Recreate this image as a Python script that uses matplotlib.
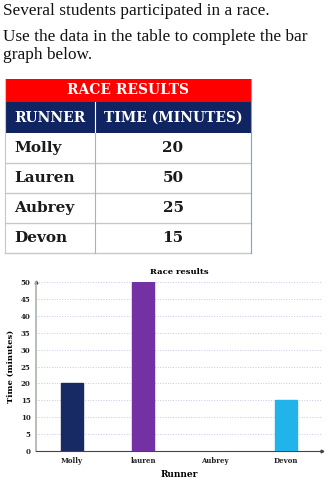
import matplotlib.pyplot as plt
from matplotlib.patches import Rectangle
import numpy as np

plt.rcParams['font.family'] = ['DejaVu Serif']

# ---------------------------------------------------------------------------------------------------------------------
# data
intro_lines = ['Several students participated in a race.',
               'Use the data in the table to complete the bar',
               'graph below.']
table_title = 'RACE RESULTS'
table_header = ['RUNNER', 'TIME (MINUTES)']
runners = ['Molly', 'Lauren', 'Aubrey', 'Devon']
times = [20, 50, 25, 15]

chart_labels = ['Molly', 'lauren', 'Aubrey', 'Devon']
chart_values = [20, 50, 0, 15]          # Aubrey not drawn yet
bar_colors = ['#172a63', '#7431a3', '#ffffff', '#22b3ea']
y_ticks = np.arange(0, 55, 5)

W, H = 329, 482
fig = plt.figure(figsize=(W / 100, H / 100), dpi=100)

# ---------------------------------------------------------------------------------------------------------------------
# text + table, drawn in pixel coordinates
bg = fig.add_axes([0, 0, 1, 1])
bg.set_xlim(0, W)
bg.set_ylim(H, 0)
bg.axis('off')

for y, s in zip([11, 37, 55], intro_lines):
    bg.text(3, y, s, fontsize=12.4, va='center', ha='left', color='#111111',
            family='Liberation Serif')

x0, xm, x1 = 5, 95, 251
bg.add_patch(Rectangle((x0, 79), x1 - x0, 23, color='#ff0000', lw=0))
bg.text((x0 + x1) / 2, 90.5, table_title, color='white', fontsize=10, fontweight='bold',
        ha='center', va='center')
bg.add_patch(Rectangle((x0, 102), x1 - x0, 31, color='#0f2461', lw=0))
bg.text((x0 + xm) / 2, 118, table_header[0], color='white', fontsize=10, fontweight='bold',
        ha='center', va='center')
bg.text((xm + x1) / 2, 118, table_header[1], color='white', fontsize=10, fontweight='bold',
        ha='center', va='center')
bg.plot([xm, xm], [102, 133], color='white', lw=0.8)

row_top = 133
row_h = 30
for i, (name, t) in enumerate(zip(runners, times)):
    yc = row_top + row_h * i + row_h / 2
    bg.text(x0 + 9, yc, name, fontsize=11, fontweight='bold', ha='left', va='center',
            color='#1a1a1a')
    bg.text((xm + x1) / 2, yc, str(t), fontsize=11, fontweight='bold', ha='center',
            va='center', color='#1a1a1a')
    bg.plot([x0, x1], [row_top + row_h * (i + 1)] * 2, color='#c8c8c8', lw=1)
bg.plot([xm, xm], [133, 253], color='#b0b0b0', lw=0.8)
bg.plot([x0, x0], [79, 253], color='#c8c8c8', lw=0.8)
bg.plot([x1, x1], [79, 253], color='#6fa8dc', lw=0.8)

# ---------------------------------------------------------------------------------------------------------------------
# bar chart
ax = fig.add_axes([36 / W, (H - 451) / H, 286 / W, 169 / H])
x = np.arange(len(chart_labels))
ax.bar(x, chart_values, width=0.31, color=bar_colors, edgecolor=bar_colors, zorder=3)
ax.set_xlim(-0.5, len(chart_labels) - 0.5)
ax.set_ylim(0, 50)
ax.set_yticks(y_ticks)
ax.set_xticks(x)
ax.set_xticklabels(chart_labels)
for lab in ax.get_xticklabels() + ax.get_yticklabels():
    lab.set_fontsize(5)
    lab.set_fontweight('bold')
    lab.set_color('#222222')
ax.tick_params(axis='both', length=0, pad=4)
ax.grid(axis='y', linestyle=':', color='#cfc3e3', lw=0.7, zorder=0)
for side in ['top', 'right']:
    ax.spines[side].set_visible(False)
ax.spines['left'].set_color('#a8b4a8')
ax.spines['left'].set_linewidth(1.2)
ax.spines['bottom'].set_color('#444444')
ax.spines['bottom'].set_linewidth(0.8)
# small arrow heads at the axis ends
ax.plot(1, 0, '>', color='#444444', ms=2, transform=ax.transAxes, clip_on=False)
ax.plot(0, 1, '^', color='#444444', ms=2, transform=ax.transAxes, clip_on=False)
ax.set_title('Race results', fontsize=6, fontweight='bold', pad=6)
ax.set_xlabel('Runner', fontsize=6.5, fontweight='bold', labelpad=4)
ax.set_ylabel('Time (minutes)', fontsize=6, fontweight='bold', labelpad=4)

fig.savefig('out.png', dpi=100)
